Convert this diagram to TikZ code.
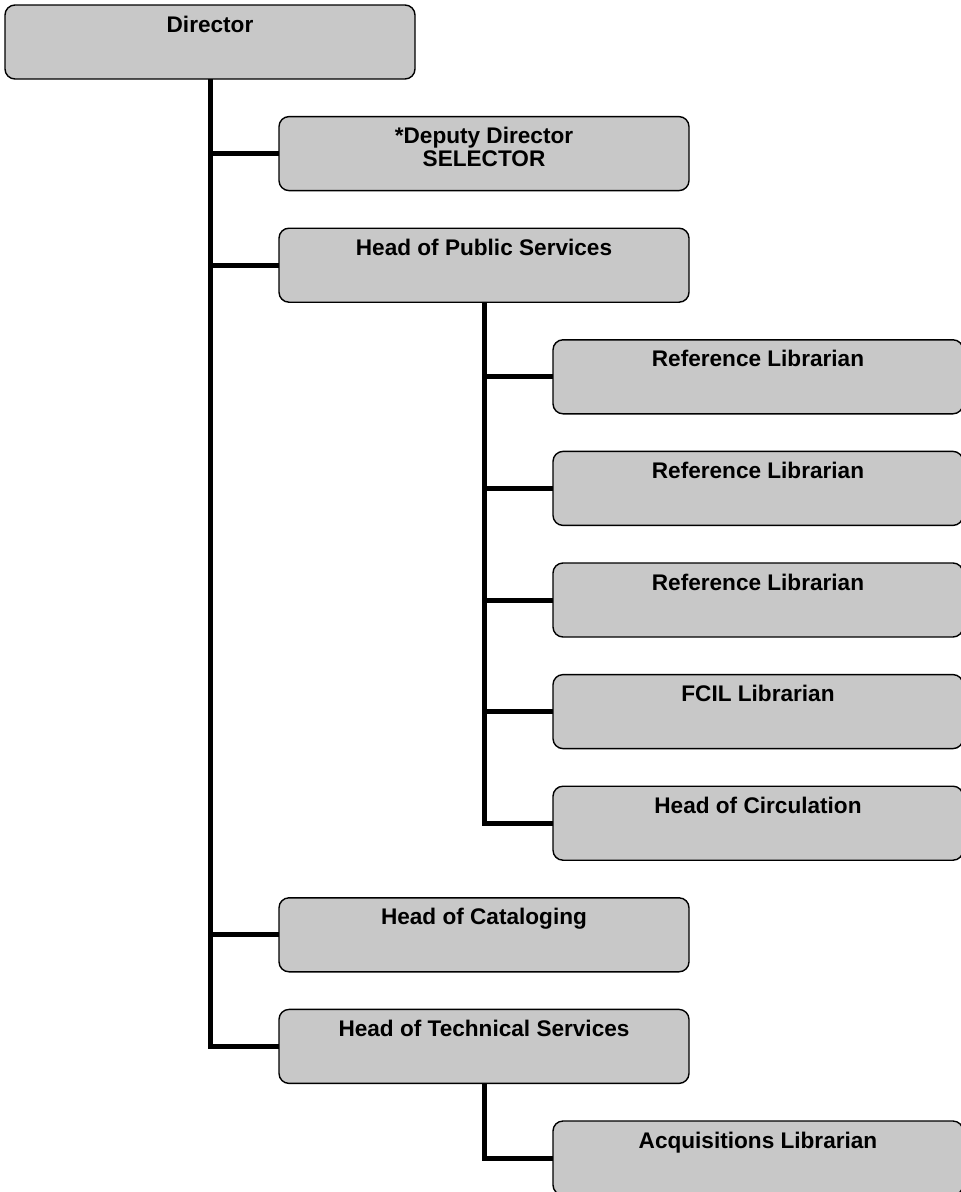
\documentclass[tikz,border=0pt]{standalone}
\usepackage{fontspec}
\setmainfont{Liberation Sans}
\definecolor{boxgray}{RGB}{200,200,200}
\newcommand{\boxtext}[1]{\parbox[c][74pt][t]{405pt}{\centering\fontsize{22.6}{23}\selectfont\bfseries\rule{0pt}{27pt}#1}}
\begin{document}
\begin{tikzpicture}[x=1pt,y=-1pt,
  orgbox/.style={draw=black, line width=1.4pt, fill=boxgray, rounded corners=10pt,
    inner sep=0pt, outer sep=0pt, minimum width=410pt, minimum height=74pt, anchor=north west},
  link/.style={draw=black, line width=5pt, line join=miter}]
\useasboundingbox (0,0) rectangle (961,1192);
\node[orgbox] (dir) at (5,5) {\boxtext{Director}};
\node[orgbox] (dep) at (279,116.6) {\boxtext{*Deputy Director\\SELECTOR}};
\node[orgbox] (hps) at (279,228.2) {\boxtext{Head of Public Services}};
\node[orgbox] (rl1) at (553,339.8) {\boxtext{Reference Librarian}};
\node[orgbox] (rl2) at (553,451.4) {\boxtext{Reference Librarian}};
\node[orgbox] (rl3) at (553,563) {\boxtext{Reference Librarian}};
\node[orgbox] (fcil) at (553,674.6) {\boxtext{FCIL Librarian}};
\node[orgbox] (hoc) at (553,786.2) {\boxtext{Head of Circulation}};
\node[orgbox] (cat) at (279,897.8) {\boxtext{Head of Cataloging}};
\node[orgbox] (hts) at (279,1009.4) {\boxtext{Head of Technical Services}};
\node[orgbox] (acq) at (553,1121) {\boxtext{Acquisitions Librarian}};
% connectors
\draw[link] (dir.south) |- (hts.west);
\draw[link] (dir.south |- dep.west) -- (dep.west);
\draw[link] (dir.south |- hps.west) -- (hps.west);
\draw[link] (dir.south |- cat.west) -- (cat.west);
\draw[link] (hps.south) |- (hoc.west);
\draw[link] (hps.south |- rl1.west) -- (rl1.west);
\draw[link] (hps.south |- rl2.west) -- (rl2.west);
\draw[link] (hps.south |- rl3.west) -- (rl3.west);
\draw[link] (hps.south |- fcil.west) -- (fcil.west);
\draw[link] (hts.south) |- (acq.west);
\end{tikzpicture}
\end{document}
